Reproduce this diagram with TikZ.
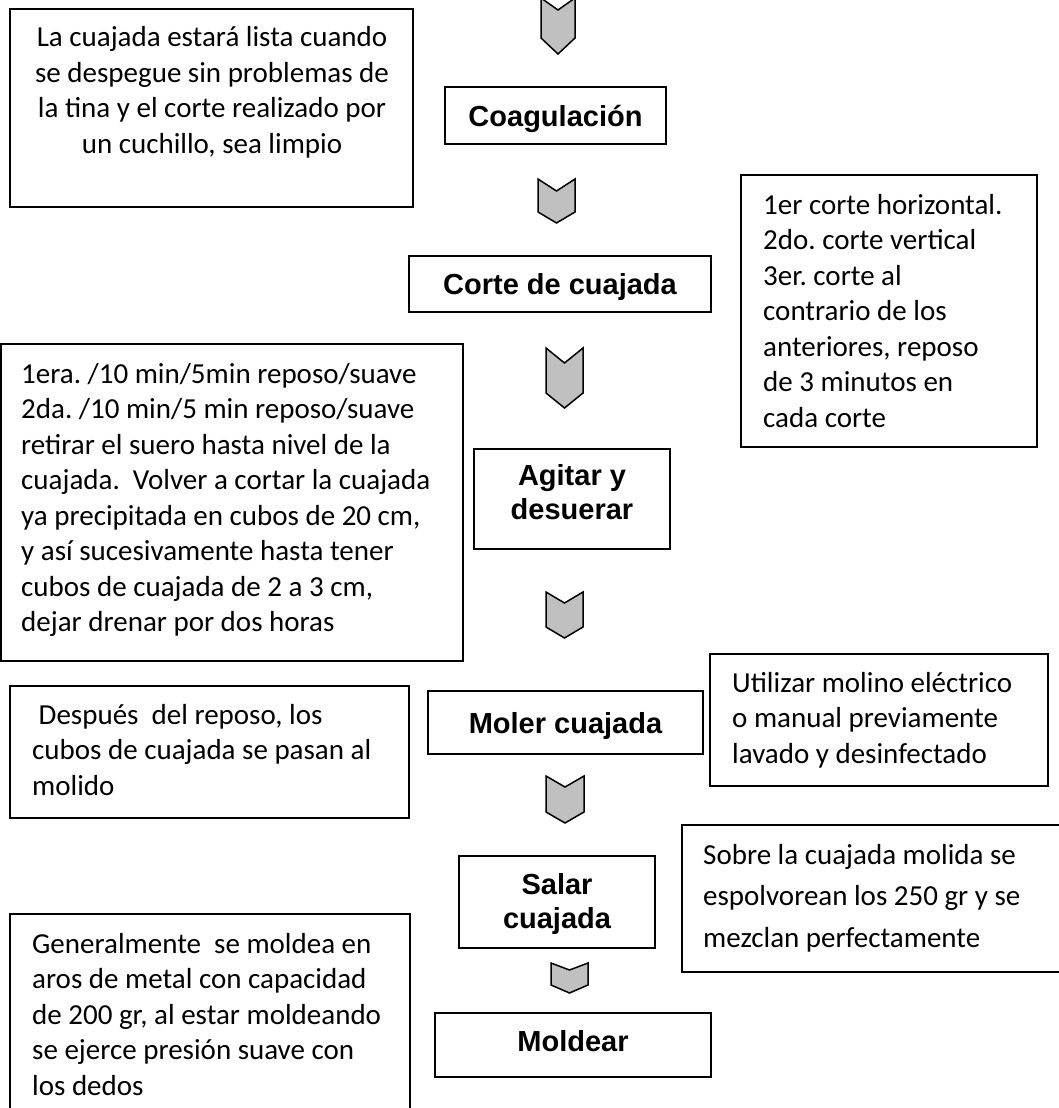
\documentclass[tikz,border=0pt]{standalone}
\usepackage{fontspec}
\setmainfont{Carlito}
\newfontfamily\lblfont{Liberation Sans}
\definecolor{chevgray}{RGB}{192,192,192}
\frenchspacing
\newcommand\chevdown[7]{%
  \draw[chev] (#1,#3) -- ({(#1+#2)/2},#4) coordinate (#7) -- (#2,#3) -- (#2,#5) -- ({(#1+#2)/2},#6) -- (#1,#5) -- cycle;}
\tikzset{
  box/.style={draw=black, line width=1.6pt, anchor=north west, inner sep=0pt, outer sep=0pt},
  chev/.style={draw=black, line width=1.5pt, fill=chevgray, line join=miter},
  notel/.style={font=\frenchspacing\fontsize{29}{35.5}\selectfont, inner sep=0pt, text width=#1, align=flush left, anchor=base west},
  notec/.style={font=\frenchspacing\fontsize{29}{35.5}\selectfont, inner sep=0pt, text width=#1, align=flush center, anchor=base},
  lbl/.style={font=\lblfont\bfseries\fontsize{29}{34.5}\selectfont, inner sep=0pt, text width=#1, align=flush center, anchor=base},
}
\begin{document}
\begin{tikzpicture}[x=1pt,y=-1pt]
\useasboundingbox (0,0) rectangle (1059,1108);
% boxes
\node[box, minimum width=403pt, minimum height=198pt] (boxA) at (10,9) {};
\node[box, minimum width=221pt, minimum height=57pt] (coag) at (445,87) {};
\node[box, minimum width=302pt, minimum height=56pt] (corte) at (409,256) {};
\node[box, minimum width=296pt, minimum height=272pt] (boxE) at (741,175) {};
\node[box, minimum width=462pt, minimum height=317pt] (boxB) at (1,344) {};
\node[box, minimum width=196pt, minimum height=100pt] (agitar) at (474,449) {};
\node[box, minimum width=399pt, minimum height=132pt] (boxD) at (10,686) {};
\node[box, minimum width=275pt, minimum height=63pt] (moler) at (428,691) {};
\node[box, minimum width=338pt, minimum height=132pt] (boxU) at (710,654) {};
\node[box, minimum width=196pt, minimum height=92pt] (salar) at (459,856) {};
\node[box, minimum width=380pt, minimum height=147pt] (boxS) at (682,825) {};
\node[box, minimum width=276pt, minimum height=64pt] (moldear) at (435,1013) {};
\node[box, minimum width=400pt, minimum height=205pt] (boxG) at (10,914) {};
% chevron arrows
\chevdown{541}{575}{-2}{10}{38}{54}{c1}
\chevdown{538}{575}{179}{191}{212}{223}{c2}
\chevdown{546}{583}{348}{363}{393}{408}{c3}
\chevdown{546}{583}{592}{603}{627}{638}{c4}
\chevdown{546}{584}{776}{787}{812}{823}{c5}
\chevdown{551}{588}{963}{970}{985}{993}{c6}
% step labels
\node[lbl=220pt] (tcoag) at (555.5,126) {Coagulación};
\node[lbl=300pt] (tcorte) at (560,294) {Corte de cuajada};
\node[lbl=196pt] (tagitar) at (572,485) {Agitar y\\desuerar};
\node[lbl=275pt] (tmoler) at (565.5,733) {Moler cuajada};
\node[lbl=196pt] (tsalar) at (557,894) {Salar\\cuajada};
\node[lbl=276pt] (tmoldear) at (573,1051) {Moldear};
% notes
\node[notec=400pt] (tA) at (212,47) {La cuajada estará lista cuando\\se despegue sin problemas de\\la tina y el corte realizado por\\un cuchillo, sea limpio};
\node[notel=290pt] (tE) at (763,214) {1er corte horizontal.\\2do. corte vertical\\3er. corte al\\contrario de los\\anteriores, reposo\\de 3 minutos en\\cada corte};
\node[notel=440pt] (tB) at (21,383) {1era. /10 min/5min reposo/suave\\2da. /10 min/5 min reposo/suave\\retirar el suero hasta nivel de la\\cuajada.\ \ Volver a cortar la cuajada\\ya precipitada en cubos de 20 cm,\\y así sucesivamente hasta tener\\cubos de cuajada de 2 a 3 cm,\\dejar drenar por dos horas};
\node[notel=375pt] (tD) at (32,724) {\hspace*{6.5pt}Después\ \ del reposo, los\\cubos de cuajada se pasan al\\molido};
\node[notel=320pt] (tU) at (732,692) {Utilizar molino eléctrico\\o manual previamente\\lavado y desinfectado};
\node[notel=355pt, font=\frenchspacing\fontsize{29}{41.5}\selectfont] (tS) at (703,864) {Sobre la cuajada molida se\\espolvorean los 250 gr y se\\mezclan perfectamente};
\node[notel=375pt] (tG) at (32,953) {Generalmente\ \ se moldea en\\aros de metal con capacidad\\de 200 gr, al estar moldeando\\se ejerce presión suave con\\los dedos};
\end{tikzpicture}
\end{document}
